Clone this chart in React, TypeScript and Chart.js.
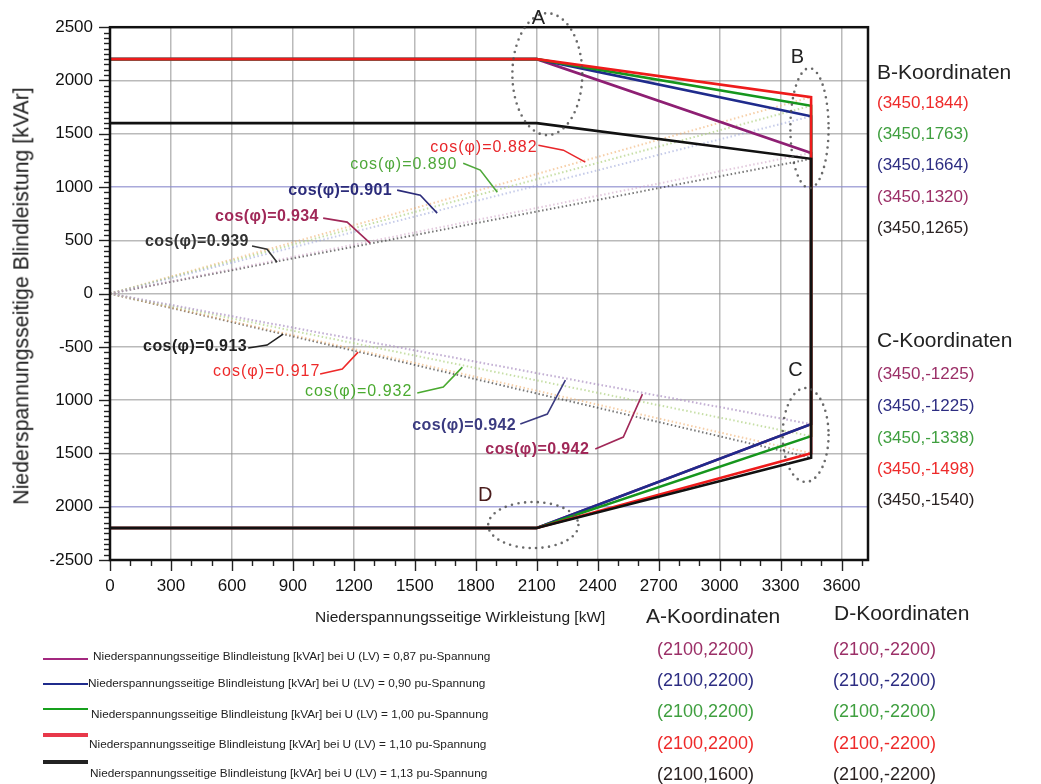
import React, { useEffect, useRef } from "react";
import { Chart, registerables } from "chart.js";

Chart.register(...registerables);

document.body.style.margin = "0";

const FONT = "'Liberation Sans', Arial, Helvetica, sans-serif";

// ---------------- data ----------------
const voltageLabels = ["0,87", "0,90", "1,00", "1,10", "1,13"];
const seriesColors = ["#8e1f73", "#1f2b8c", "#16961d", "#ee1b1b", "#111111"];
const legendColors = ["#a3287f", "#1f2b8c", "#17a01d", "#e8384a", "#222222"];
const textColors = ["#9b2f67", "#2d2d82", "#3f9f3f", "#ee2a2a", "#2a2222"];
const dotColors = [
  "rgba(200,150,190,0.5)",
  "rgba(150,160,215,0.55)",
  "rgba(175,210,130,0.7)",
  "rgba(240,175,110,0.6)",
  "rgba(60,60,60,0.7)",
];

const pointA_X = 2100;
const pointB_X = 3450;
const aY = [2200, 2200, 2200, 2200, 1600];
const bY = [1320, 1664, 1763, 1844, 1265];
const cY = [-1225, -1225, -1338, -1498, -1540];
const dY = [-2200, -2200, -2200, -2200, -2200];

const cosB = ["0.934", "0.901", "0.890", "0.882", "0.939"];
const cosC = ["0.942", "0.942", "0.932", "0.917", "0.913"];

const xTicks = [0, 300, 600, 900, 1200, 1500, 1800, 2100, 2400, 2700, 3000, 3300, 3600];
const xMax = 3730;
const yTicks = [-2500, -2000, -1500, -1000, -500, 0, 500, 1000, 1500, 2000, 2500];
const yTickLabels = ["-2500", "2000", "1500", "1000", "-500", "0", "500", "1000", "1500", "2000", "2500"];

const bListOrder = [3, 2, 1, 0, 4];
const cListOrder = [0, 1, 2, 3, 4];

// ---------------- annotations (data units) ----------------
const cosLabelsB = [
  { x: 517, y: 727, leader: [[1049, 708], [1167, 671], [1280, 474]], color: "#a02858", bold: true },
  { x: 877, y: 971, leader: [[1413, 971], [1527, 924], [1610, 755]], color: "#2b2b7a", bold: true },
  { x: 1182, y: 1215, leader: [[1738, 1224], [1822, 1159], [1906, 952]], color: "#4fa83a", bold: false },
  { x: 1576, y: 1374, leader: [[2108, 1393], [2231, 1346], [2339, 1234]], color: "#e8262a", bold: false },
  { x: 172, y: 492, leader: [[699, 446], [773, 417], [822, 295]], color: "#333333", bold: true },
];
const cosLabelsC = [
  { x: 1847, y: -1468, leader: [[2388, -1459], [2526, -1346], [2620, -943]], color: "#a02858", bold: true },
  { x: 1487, y: -1234, leader: [[2019, -1224], [2152, -1130], [2241, -811]], color: "#3b3b80", bold: true },
  { x: 960, y: -924, leader: [[1512, -933], [1640, -877], [1734, -690]], color: "#4aaa30", bold: false },
  { x: 507, y: -736, leader: [[1034, -755], [1143, -708], [1221, -549]], color: "#ee2a2a", bold: false },
  { x: 163, y: -502, leader: [[680, -511], [773, -483], [852, -380]], color: "#222222", bold: true },
];
const ellipses = [
  { cx: 2152, cy: 2059, rx: 172, ry: 572 },
  { cx: 3442, cy: 1553, rx: 94, ry: 563 },
  { cx: 3423, cy: -1327, rx: 113, ry: 441 },
  { cx: 2083, cy: -2172, rx: 222, ry: 216 },
];
const letters = [
  { t: "A", x: 2108, y: 2584, color: "#222" },
  { t: "B", x: 3383, y: 2219, color: "#222" },
  { t: "C", x: 3373, y: -718, color: "#222" },
  { t: "D", x: 1847, y: -1890, color: "#4a1c1c" },
];

const annotationPlugin = {
  id: "annot",
  afterDatasetsDraw(chart: any) {
    const { ctx, chartArea } = chart;
    const xs = chart.scales.x;
    const ys = chart.scales.y;
    const px = (v: number) => xs.getPixelForValue(v);
    const py = (v: number) => ys.getPixelForValue(v);
    ctx.save();
    // minor + major ticks
    ctx.strokeStyle = "#222";
    ctx.lineWidth = 1.4;
    for (let v = -2500; v <= 2500; v += 50) {
      const len = v % 500 === 0 ? 11 : 6;
      const yy = Math.round(py(v)) + 0.5;
      ctx.beginPath();
      ctx.moveTo(chartArea.left - len, yy);
      ctx.lineTo(chartArea.left, yy);
      ctx.stroke();
    }
    for (let v = 0; v <= 3700; v += 100) {
      const len = v % 300 === 0 ? 11 : 6;
      const xx = Math.round(px(v)) + 0.5;
      ctx.beginPath();
      ctx.moveTo(xx, chartArea.bottom);
      ctx.lineTo(xx, chartArea.bottom + len);
      ctx.stroke();
    }
    // frame
    ctx.lineWidth = 2.5;
    ctx.strokeStyle = "#111";
    ctx.strokeRect(chartArea.left, chartArea.top, chartArea.right - chartArea.left, chartArea.bottom - chartArea.top);
    // ellipses
    ctx.setLineDash([0, 6.5]);
    ctx.lineCap = "round";
    ctx.lineWidth = 2.6;
    ctx.strokeStyle = "rgba(80,80,80,0.85)";
    for (const e of ellipses) {
      const cxp = px(e.cx);
      const cyp = py(e.cy);
      ctx.beginPath();
      ctx.ellipse(cxp, cyp, Math.abs(px(e.cx + e.rx) - cxp), Math.abs(py(e.cy + e.ry) - cyp), 0, 0, Math.PI * 2);
      ctx.stroke();
    }
    ctx.setLineDash([]);
    ctx.lineCap = "butt";
    // letters
    ctx.textBaseline = "middle";
    ctx.textAlign = "center";
    ctx.font = `20px ${FONT}`;
    for (const l of letters) {
      ctx.fillStyle = l.color;
      ctx.fillText(l.t, px(l.x), py(l.y));
    }
    // cos labels
    ctx.textAlign = "left";
    const drawLabels = (arr: any[], vals: string[]) => {
      arr.forEach((l, i) => {
        ctx.font = `${l.bold ? "bold " : ""}16px ${FONT}`;
        (ctx as any).letterSpacing = l.bold ? "0.4px" : "1px";
        ctx.fillStyle = l.color;
        ctx.fillText(`cos(φ)=${vals[i]}`, px(l.x), py(l.y));
        ctx.strokeStyle = l.color;
        ctx.lineWidth = 1.6;
        ctx.beginPath();
        l.leader.forEach((p: number[], k: number) => {
          if (k === 0) ctx.moveTo(px(p[0]), py(p[1]));
          else ctx.lineTo(px(p[0]), py(p[1]));
        });
        ctx.stroke();
      });
    };
    drawLabels(cosLabelsB, cosB);
    drawLabels(cosLabelsC, cosC);
    (ctx as any).letterSpacing = "0px";
    ctx.restore();
  },
};

function ChartCanvas() {
  const ref = useRef<HTMLCanvasElement>(null);
  useEffect(() => {
    if (!ref.current) return;
    const mainSets = [4, 3, 2, 1, 0].map((i, k) => ({
      label: `U ${voltageLabels[i]}`,
      data: [
        { x: 0, y: aY[i] },
        { x: pointA_X, y: aY[i] },
        { x: pointB_X, y: bY[i] },
        { x: pointB_X, y: cY[i] },
        { x: pointA_X, y: dY[i] },
        { x: 0, y: dY[i] },
      ],
      showLine: true,
      borderColor: seriesColors[i],
      borderWidth: 2.6,
      pointRadius: 0,
      fill: false,
      order: k,
    }));
    const dotSets: any[] = [];
    [0, 1, 2, 3, 4].forEach((i) => {
      dotSets.push({
        label: `cosB ${i}`,
        data: [
          { x: 0, y: 0 },
          { x: pointB_X, y: bY[i] },
        ],
        showLine: true,
        borderColor: dotColors[i],
        borderWidth: 2,
        borderDash: [1.5, 2.5],
        pointRadius: 0,
        order: 10 + i,
      });
      dotSets.push({
        label: `cosC ${i}`,
        data: [
          { x: 0, y: 0 },
          { x: pointB_X, y: cY[i] },
        ],
        showLine: true,
        borderColor: dotColors[i],
        borderWidth: 2,
        borderDash: [1.5, 2.5],
        pointRadius: 0,
        order: 20 + i,
      });
    });
    const chart = new Chart(ref.current, {
      type: "scatter",
      data: { datasets: [...mainSets, ...dotSets] as any },
      plugins: [annotationPlugin as any],
      options: {
        animation: false,
        responsive: false,
        devicePixelRatio: 1,
        layout: { padding: { top: 27, right: 173, left: 0, bottom: 0 } },
        plugins: { legend: { display: false }, tooltip: { enabled: false } },
        scales: {
          x: {
            type: "linear",
            min: 0,
            max: xMax,
            afterBuildTicks: (s: any) => {
              s.ticks = xTicks.map((v) => ({ value: v }));
            },
            afterFit: (s: any) => {
              s.height = 224;
            },
            border: { display: false },
            grid: {
              drawTicks: false,
              color: "rgba(140,140,140,0.6)",
              lineWidth: 1.5,
            },
            ticks: {
              padding: 16,
              autoSkip: false,
              maxRotation: 0,
              color: "#111",
              font: { family: FONT, size: 17 },
              callback: (v: any) => String(v),
            },
          },
          y: {
            type: "linear",
            min: -2500,
            max: 2500,
            afterBuildTicks: (s: any) => {
              s.ticks = yTicks.map((v) => ({ value: v }));
            },
            afterFit: (s: any) => {
              s.width = 110;
            },
            border: { display: false },
            grid: {
              drawTicks: false,
              color: (c: any) =>
                c.tick && (c.tick.value === 1000 || c.tick.value === -2000)
                  ? "rgba(140,140,205,0.75)"
                  : "rgba(140,140,140,0.6)",
              lineWidth: 1.5,
            },
            ticks: {
              padding: 17,
              autoSkip: false,
              color: "#111",
              font: { family: FONT, size: 17 },
              callback: (v: any) => {
                const idx = yTicks.indexOf(Number(v));
                return idx >= 0 ? yTickLabels[idx] : "";
              },
            },
          },
        },
      },
    });
    return () => chart.destroy();
  }, []);
  return (
    <canvas
      ref={ref}
      width={1041}
      height={784}
      style={{ position: "absolute", left: 0, top: 0, width: 1041, height: 784, display: "block" }}
    />
  );
}

function Txt(props: { x: number; cy: number; size: number; color: string; children: any; weight?: any }) {
  return (
    <div
      style={{
        position: "absolute",
        left: props.x,
        top: props.cy,
        transform: "translateY(-50%)",
        fontSize: props.size,
        lineHeight: 1,
        color: props.color,
        whiteSpace: "nowrap",
        fontFamily: FONT,
        fontWeight: props.weight || "normal",
      }}
    >
      {props.children}
    </div>
  );
}

const legendRows = [
  { lineY: 659, textX: 93, textY: 657, lw: 2.5 },
  { lineY: 684, textX: 88, textY: 684, lw: 2.5 },
  { lineY: 709, textX: 91, textY: 715, lw: 2.5 },
  { lineY: 735, textX: 89, textY: 745, lw: 3.5 },
  { lineY: 762, textX: 90, textY: 774, lw: 3.5 },
];
const bRowsY = [102, 133, 164, 196, 227];
const cRowsY = [373, 405, 437, 468, 499];
const adRowsY = [649, 680, 711, 743, 774];

export default function App() {
  return (
    <div style={{ position: "relative", width: 1041, height: 784, background: "#fff", overflow: "hidden" }}>
      <ChartCanvas />
      {/* axis titles */}
      <div
        style={{
          position: "absolute",
          left: 22,
          top: 296,
          transform: "translate(-50%,-50%) rotate(-90deg)",
          fontSize: 21.3,
          lineHeight: 1,
          whiteSpace: "nowrap",
          fontFamily: FONT,
          color: "#222",
        }}
      >
        Niederspannungsseitige Blindleistung [kVAr]
      </div>
      <Txt x={315} cy={617} size={15.5} color="#222">
        Niederspannungsseitige Wirkleistung [kW]
      </Txt>
      {/* legend */}
      {legendRows.map((r, i) => (
        <React.Fragment key={i}>
          <div
            style={{
              position: "absolute",
              left: 43,
              top: r.lineY - r.lw / 2,
              width: 45,
              height: r.lw,
              background: legendColors[i],
            }}
          />
          <Txt x={r.textX} cy={r.textY} size={11.8} color="#222">
            {`Niederspannungsseitige Blindleistung [kVAr] bei U (LV) = ${voltageLabels[i]} pu-Spannung`}
          </Txt>
        </React.Fragment>
      ))}
      {/* B / C coordinates */}
      <Txt x={877} cy={71} size={21} color="#222">B-Koordinaten</Txt>
      {bListOrder.map((si, k) => (
        <Txt key={"b" + k} x={877} cy={bRowsY[k]} size={17} color={textColors[si]}>
          {`(${pointB_X},${bY[si]})`}
        </Txt>
      ))}
      <Txt x={877} cy={339} size={21} color="#222">C-Koordinaten</Txt>
      {cListOrder.map((si, k) => (
        <Txt key={"c" + k} x={877} cy={cRowsY[k]} size={17} color={textColors[si]}>
          {`(${pointB_X},${cY[si]})`}
        </Txt>
      ))}
      {/* A / D coordinates */}
      <Txt x={646} cy={615} size={21} color="#222">A-Koordinaten</Txt>
      <Txt x={834} cy={612} size={21} color="#222">D-Koordinaten</Txt>
      {[0, 1, 2, 3, 4].map((si, k) => (
        <React.Fragment key={"ad" + k}>
          <Txt x={657} cy={adRowsY[k]} size={18} color={textColors[si]}>
            {`(${pointA_X},${aY[si]})`}
          </Txt>
          <Txt x={833} cy={adRowsY[k]} size={18} color={textColors[si]}>
            {`(${pointA_X},${dY[si]})`}
          </Txt>
        </React.Fragment>
      ))}
    </div>
  );
}
